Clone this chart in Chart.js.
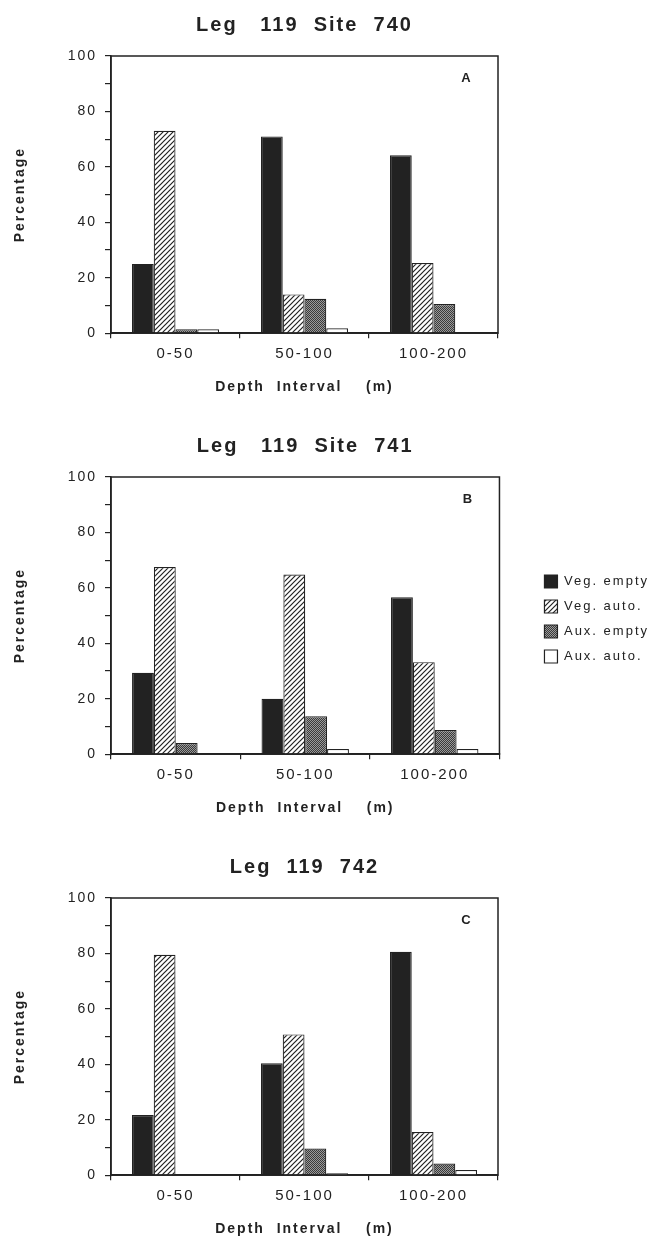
<!DOCTYPE html>
<html>
<head>
<meta charset="utf-8">
<script src="https://cdn.jsdelivr.net/npm/chart.js@4.4.1/dist/chart.umd.min.js"></script>
<style>
  body { margin: 0; background: #fff; overflow: hidden; }
  #wrap { position: relative; width: 659px; height: 1238px; }
  canvas { position: absolute; left: 0; }
</style>
</head>
<body>
<div id="wrap">
  <canvas id="site740" width="659" height="396" style="top:0px"></canvas>
  <canvas id="site741" width="659" height="396" style="top:421px"></canvas>
  <canvas id="site742" width="659" height="396" style="top:842px"></canvas>
</div>
<script>
// categorias y series
const depthLabels = ['0-50', '50-100', '100-200'];
const seriesNames = ['Veg. empty', 'Veg. auto.', 'Aux. empty', 'Aux. auto.'];

// Site 740 (A)
const vegEmpty740 = [25, 71, 64.2];
const vegAuto740 = [73, 14, 25.3];
const auxEmpty740 = [1.4, 12.4, 10.5];
const auxAuto740 = [1.4, 1.8, 0];

// Site 741 (B)
const vegEmpty741 = [29.4, 20, 56.6];
const vegAuto741 = [67.5, 64.8, 33.2];
const auxEmpty741 = [4, 13.7, 8.7];
const auxAuto741 = [0, 1.9, 1.9];

// Site 742 (C)
const vegEmpty742 = [21.7, 40.4, 80.6];
const vegAuto742 = [79.5, 50.8, 15.6];
const auxEmpty742 = [0, 9.6, 4.2];
const auxAuto742 = [0, 0.7, 1.9];

// eje y
const yMin = 0;
const yMax = 100;
const yStep = 10;
const yLabelEvery = 20;

const ink = '#222';
Chart.defaults.font.family = "'Liberation Sans', Arial, Helvetica, sans-serif";
Chart.defaults.color = ink;

// patrones de relleno
const makePattern = (size, draw) => {
  const c = document.createElement('canvas');
  c.width = size;
  c.height = size;
  const g = c.getContext('2d');
  draw(g);
  return g.createPattern(c, 'repeat');
};

const hatch = makePattern(5, g => {
  g.fillStyle = '#fff';
  g.fillRect(0, 0, 5, 5);
  g.strokeStyle = ink;
  g.lineWidth = 1.2;
  g.beginPath();
  g.moveTo(0, 5); g.lineTo(5, 0);
  g.moveTo(-1, 1); g.lineTo(1, -1);
  g.moveTo(4, 6); g.lineTo(6, 4);
  g.stroke();
});

const stipple = makePattern(2, g => {
  g.fillStyle = '#9a9a9a';
  g.fillRect(0, 0, 2, 2);
  g.fillStyle = '#3a3a3a';
  g.fillRect(0, 0, 1, 1);
  g.fillRect(1, 1, 1, 1);
});

const fills = [ink, hatch, stipple, '#fff'];

// espaciado de letras como en la figura
const spacing = {
  id: 'spacing',
  beforeLayout(chart) { chart.ctx.letterSpacing = '2px'; },
  beforeDraw(chart) { chart.ctx.letterSpacing = '2px'; }
};

// marco completo y letra del panel
const frame = {
  id: 'frame',
  afterDraw(chart, args, opts) {
    const {ctx, chartArea: a} = chart;
    ctx.save();
    ctx.strokeStyle = ink;
    ctx.lineWidth = 1.5;
    ctx.strokeRect(a.left, a.top, a.right - a.left, a.bottom - a.top);
    ctx.letterSpacing = '0px';
    ctx.fillStyle = ink;
    ctx.font = "bold 13px 'Liberation Sans', Arial, sans-serif";
    ctx.textAlign = 'center';
    ctx.textBaseline = 'middle';
    ctx.fillText(opts.letter, a.right - 32, a.top + 22);
    ctx.restore();
  }
};

const makeChart = (id, title, letter, vegEmpty, vegAuto, auxEmpty, auxAuto, withLegend) => {
  const values = [vegEmpty, vegAuto, auxEmpty, auxAuto];
  const datasets = values.map((data, i) => ({
    label: seriesNames[i],
    data: data,
    backgroundColor: fills[i],
    borderColor: ink,
    borderWidth: 1.2,
    categoryPercentage: 0.675,
    barPercentage: 1.0
  }));

  const scales = {
    x: {
      grid: { drawOnChartArea: false, tickLength: 5, color: ink, lineWidth: 1.2 },
      border: { color: ink, width: 1.5 },
      ticks: { font: { size: 15 }, padding: 7, color: ink },
      title: {
        display: true,
        text: 'Depth  Interval    (m)',
        font: { size: 14, weight: 'bold' },
        padding: { top: 9, bottom: 0 },
        color: ink
      }
    },
    y: {
      min: yMin,
      max: yMax,
      grid: { drawOnChartArea: false, tickLength: 6, color: ink, lineWidth: 1.2 },
      border: { color: ink, width: 1.5 },
      ticks: {
        stepSize: yStep,
        font: { size: 14 },
        padding: 8,
        color: ink,
        callback: v => (v % yLabelEvery === 0 ? v : '')
      },
      title: {
        display: true,
        text: 'Percentage',
        font: { size: 14, weight: 'bold' },
        padding: { top: 8, bottom: 39 },
        color: ink
      },
      afterFit: s => { s.width = 107; }
    }
  };

  if (withLegend) {
    // hueco entre el marco y la leyenda
    scales.y2 = {
      position: 'right',
      display: true,
      grid: { display: false },
      border: { display: false },
      ticks: { display: false },
      afterFit: s => { s.width = 33; }
    };
  } else {
    scales.y2 = {
      position: 'right',
      display: true,
      grid: { display: false },
      border: { display: false },
      ticks: { display: false },
      afterFit: s => { s.width = 161; }
    };
  }

  return new Chart(document.getElementById(id), {
    type: 'bar',
    data: { labels: depthLabels, datasets: datasets },
    options: {
      responsive: false,
      animation: false,
      layout: { padding: { left: 4, right: 0, top: 0, bottom: 0 } },
      scales: scales,
      plugins: {
        title: {
          display: true,
          fullSize: false,
          text: title,
          font: { size: 20, weight: 'bold' },
          color: ink,
          padding: { top: 13, bottom: 19 }
        },
        legend: {
          display: withLegend,
          position: 'right',
          maxWidth: 160,
          labels: {
            boxWidth: 13,
            boxHeight: 13,
            padding: 12,
            font: { size: 13 },
            color: ink
          }
        },
        tooltip: { enabled: false },
        frame: { letter: letter }
      }
    },
    plugins: [spacing, frame]
  });
};

makeChart('site740', 'Leg   119  Site  740', 'A', vegEmpty740, vegAuto740, auxEmpty740, auxAuto740, false);
makeChart('site741', 'Leg   119  Site  741', 'B', vegEmpty741, vegAuto741, auxEmpty741, auxAuto741, true);
makeChart('site742', 'Leg  119  742', 'C', vegEmpty742, vegAuto742, auxEmpty742, auxAuto742, false);
</script>
</body>
</html>
